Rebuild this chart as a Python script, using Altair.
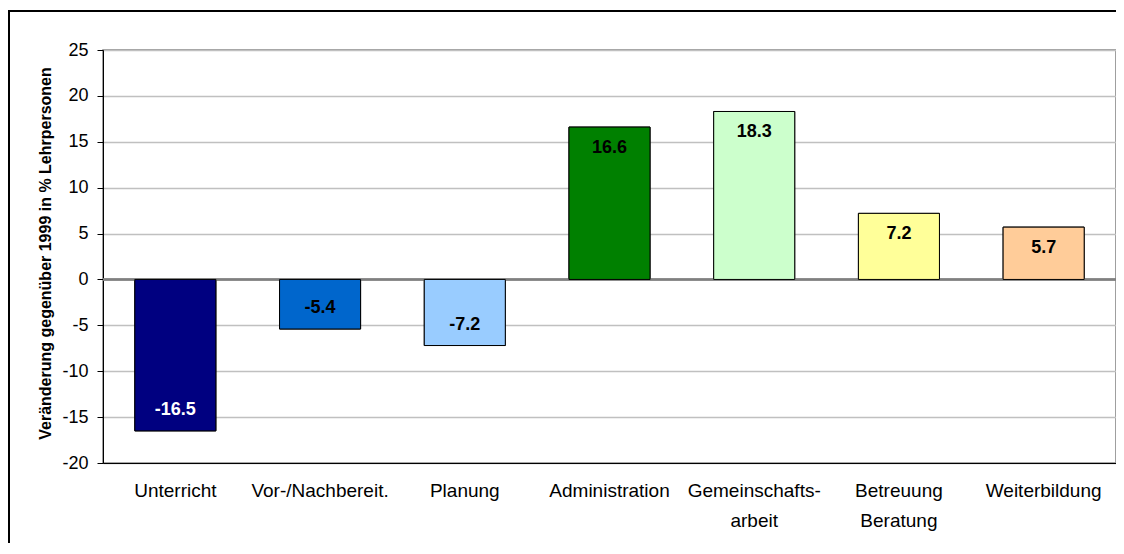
import altair as alt
import pandas as pd

categories = ["Unterricht", "Vor-/Nachbereit.", "Planung", "Administration",
              "Gemeinschafts-\narbeit", "Betreuung\nBeratung", "Weiterbildung"]
values = [-16.5, -5.4, -7.2, 16.6, 18.3, 7.2, 5.7]
bar_colors = ["#000080", "#0066CC", "#99CCFF", "#008000", "#CCFFCC", "#FFFF99", "#FFCC99"]
label_colors = ["#FFFFFF", "#000000", "#000000", "#000000", "#000000", "#000000", "#000000"]
y_ticks = [-20, -15, -10, -5, 0, 5, 10, 15, 20, 25]

df = pd.DataFrame({"cat": categories, "val": values, "color": bar_colors, "lcolor": label_colors})
df["label"] = df["val"].map(lambda v: f"{v:.1f}")

FONT = "Liberation Sans"

x_enc = alt.X(
    "cat:N", sort=categories,
    scale=alt.Scale(paddingInner=0.44, paddingOuter=0.22),
    axis=alt.Axis(title=None, labelAngle=0, labelExpr="split(datum.value, '\\n')",
                  labelFont=FONT, labelFontSize=19, labelColor="black",
                  labelPadding=18, labelLineHeight=30, ticks=False,
                  domainColor="black", domainWidth=1, grid=False),
)
y_enc = alt.Y(
    "val:Q",
    scale=alt.Scale(domain=[-20, 25], nice=False, zero=False),
    axis=alt.Axis(values=y_ticks, title="Veränderung gegenüber 1999 in % Lehrpersonen",
                  labelExpr="'' + datum.value",
                  labelFont=FONT, labelFontSize=18, labelColor="black", labelPadding=9,
                  tickSize=6, tickColor="black", domainColor="black", domainWidth=1,
                  grid=True, gridColor="#C0C0C0", gridWidth=1.5,
                  titleFont=FONT, titleFontSize=16, titleFontWeight="bold", titleColor="black",
                  titleX=-58, titleY=203, titleAngle=270, titleAlign="center",
                  titleBaseline="middle"),
)

base = alt.Chart(df)

# outer chart frame (decoration, extends beyond the page on right/bottom)
frame = alt.Chart(alt.Data(values=[{"k": 1}])).mark_rect(
    filled=False, stroke="black", strokeWidth=2
).encode(x=alt.value(-94), x2=alt.value(2000), y=alt.value(-39), y2=alt.value(900))

bars = base.mark_bar(stroke="black", strokeWidth=1).encode(
    x=x_enc, y=y_enc, color=alt.Color("color:N", scale=None)
)

zero = base.mark_rule(color="#808080", strokeWidth=1.5).encode(y=alt.datum(0))

pos_text = base.transform_filter("datum.val >= 0").mark_text(
    font=FONT, fontSize=18, fontWeight="bold", baseline="middle", dy=21
).encode(x=alt.X("cat:N", sort=categories), y="val:Q", text="label:N",
         color=alt.Color("lcolor:N", scale=None))

neg_text = base.transform_filter("datum.val < 0").mark_text(
    font=FONT, fontSize=18, fontWeight="bold", baseline="middle", dy=-21
).encode(x=alt.X("cat:N", sort=categories), y="val:Q", text="label:N",
         color=alt.Color("lcolor:N", scale=None))

chart = alt.layer(bars, frame, zero, bars, pos_text, neg_text).properties(
    width=1013, height=413,
    padding={"left": 95, "top": 42, "right": 0, "bottom": 80},
    autosize=alt.AutoSizeParams(type="none"),
    background="white",
).configure_view(stroke="#808080", strokeWidth=1.5)

chart.save("out.html", embed_options={"renderer": "svg", "actions": False})
